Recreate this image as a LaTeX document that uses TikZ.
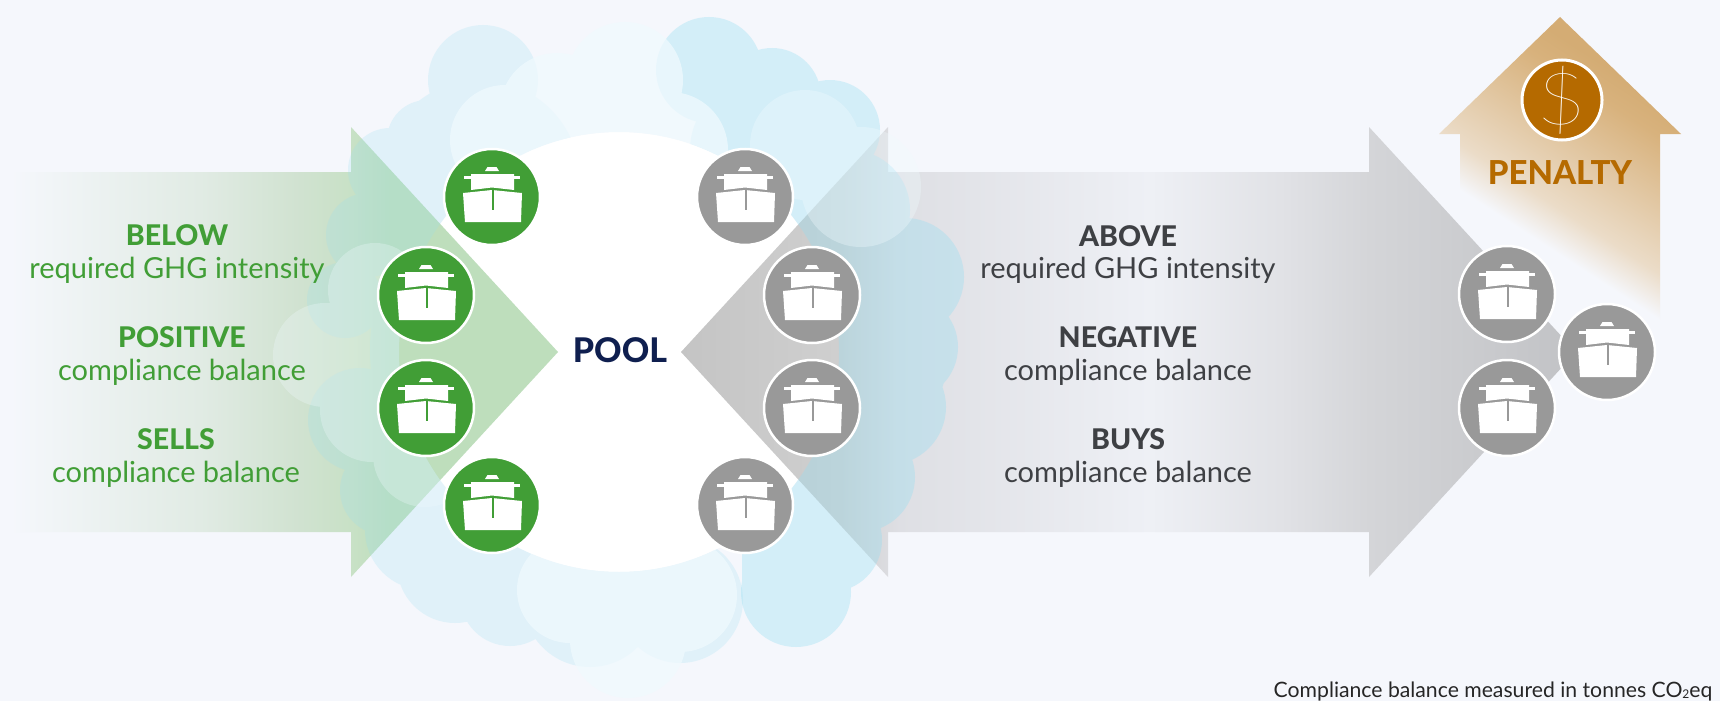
\documentclass[tikz,border=0pt]{standalone}
\usepackage{fontspec}
\setmainfont{Lato}
\newfontfamily\thinfont[FakeStretch=1.2]{Lato Thin}
\newfontfamily\heavyfont{Lato Heavy}
\definecolor{paper}{RGB}{245,247,252}
\definecolor{shipgreen}{RGB}{65,158,54}
\definecolor{shipgray}{RGB}{153,153,153}
\definecolor{textgray}{RGB}{62,64,68}
\definecolor{navy}{RGB}{15,31,79}
\definecolor{penaltybrown}{RGB}{181,106,0}
\definecolor{cloudblue}{RGB}{150,222,242}
\definecolor{cloudlight}{RGB}{240,250,254}
\pgfdeclarehorizontalshading{greenarrow}{100bp}{rgb(0bp)=(.961,.969,.988);rgb(25.9bp)=(.961,.969,.988);
  rgb(42.9bp)=(.882,.922,.894);rgb(51.9bp)=(.816,.886,.816);
  rgb(56.5bp)=(.784,.882,.776);rgb(60bp)=(.745,.871,.737);rgb(100bp)=(.745,.871,.737)}
\pgfdeclarehorizontalshading{grayarrow}{100bp}{rgb(0bp)=(.769,.769,.769);rgb(25bp)=(.769,.769,.769);
  rgb(33.8bp)=(.812,.812,.812);rgb(37.2bp)=(.871,.875,.894);rgb(51.2bp)=(.933,.941,.961);
  rgb(58.5bp)=(.882,.886,.902);rgb(63.5bp)=(.831,.835,.847);rgb(75bp)=(.757,.761,.773);rgb(100bp)=(.757,.761,.773)}
\pgfdeclareverticalshading{penaltyfade}{100bp}{rgb(0bp)=(.961,.969,.988);rgb(40bp)=(.961,.969,.988);
  rgb(46.5bp)=(.922,.863,.784);rgb(66bp)=(.847,.698,.49);rgb(71bp)=(.831,.675,.455);rgb(100bp)=(.831,.675,.455)}
\begin{document}
\begin{tikzpicture}[x=1pt,y=-1pt,
  shipdisc/.style = {shape=circle, draw=white, line width=2.5pt, minimum size=96pt, inner sep=0pt},
  greendisc/.style = {shipdisc, fill=shipgreen},
  graydisc/.style = {shipdisc, fill=shipgray},
  boldgreen/.style = {anchor=base, text=shipgreen, font=\fontsize{28.5}{30}\selectfont\heavyfont},
  plaingreen/.style = {anchor=base, text=shipgreen, font=\fontsize{29}{30}\selectfont},
  boldgray/.style = {anchor=base, text=textgray, font=\fontsize{28.5}{30}\selectfont\heavyfont},
  plaingray/.style = {anchor=base, text=textgray, font=\fontsize{29}{30}\selectfont},
  pics/ship/.style = {code={
    \fill[white] (-7,-26) -- (-4.5,-30) -- (4.5,-30) -- (7,-26) -- cycle;
    \fill[white] (-28,-21) -- (28,-21) -- (28,-18) -- (-28,-18) -- cycle;
    \fill[white] (-21,-23) -- (22,-23) -- (22,-7) -- (0,-9.5) -- (-21,-7) -- cycle;
    \fill[white] (-29,-4) -- (0,-7) -- (30,-4) -- (29,25) -- (-27,25) -- cycle;
    \draw[#1, line width=2pt] (0.5,-8) -- (0.5,13);
  }}]
  \useasboundingbox (0,0) rectangle (1720,701);
  \fill[paper] (0,0) rectangle (1720,701);

  % penalty arrow
  \path[shading=penaltyfade, shading angle=-33]
    (1560,17) -- (1681,134) -- (1660,134) -- (1660,352) -- (1460,352) -- (1460,134) -- (1439,134) -- cycle;

  \fill[white] (619,352) circle (220);

  % the two big arrows
  \path[shading=greenarrow] (0,172) -- (351,172) -- (351,127) -- (558,352) -- (351,577) -- (351,532) -- (0,532) -- cycle;
  \path[shading=grayarrow] (681,352) -- (888,127) -- (888,172) -- (1369,172) -- (1369,127) -- (1576,352)
    -- (1369,577) -- (1369,532) -- (888,532) -- (888,577) -- cycle;

  % clouds, with a hole for the white middle
  \begin{scope}
    \clip (0,0) -- (0,701) -- (1720,701) -- (1720,0) -- cycle (619,352) circle (220);
    \fill[cloudblue, opacity=.22] (483,80) circle (55) (427,140) circle (40) (390,170) circle (42)
      (368,235) circle (42) (345,300) circle (38) (360,420) circle (52) (385,490) circle (45)
      (425,530) circle (60) (455,565) circle (58) (510,596) circle (50) (590,600) circle (67)
      (680,600) circle (63) (560,350) circle (190) (480,180) circle (100) (500,520) circle (60);
    \fill[cloudblue, opacity=.35] (709,70) circle (53) (772,97) circle (49) (830,130) circle (50)
      (760,150) circle (70) (850,210) circle (60) (905,277) circle (59) (905,347) circle (53)
      (888,407) circle (58) (860,477) circle (55) (830,540) circle (52) (796,592) circle (55)
      (800,340) circle (150) (790,490) circle (60) (742,540) -- (796,540) -- (796,592) -- (742,592) -- cycle;
    \fill[cloudlight, opacity=.35] (805,145) circle (55) (861,187) circle (60);
    \fill[cloudlight, opacity=.3] (375,290) circle (47) (325,355) circle (52) (372,410) circle (52)
      (425,455) circle (52) (420,350) circle (60);
    \fill[cloudlight, opacity=.75] (625,80) circle (58) (557,110) circle (57) (505,140) circle (55)
      (670,150) circle (58) (620,170) circle (70);
    \fill[cloudlight, opacity=.75] (570,590) circle (53) (628,640) circle (58) (680,595) circle (57)
      (625,590) circle (40);
  \end{scope}

  \node[anchor=base, text=navy, font=\fontsize{34}{36}\selectfont\heavyfont] (pool) at (620,362) {POOL};

  \node[boldgreen] (below) at (177,245) {BELOW};
  \node[plaingreen] (belowtext) at (177,278) {required GHG intensity};
  \node[boldgreen] (positive) at (182,347) {POSITIVE};
  \node[plaingreen] (positivetext) at (182,380) {compliance balance};
  \node[boldgreen] (sells) at (176,449) {SELLS};
  \node[plaingreen] (sellstext) at (176,482) {compliance balance};

  \node[boldgray] (above) at (1128,246) {ABOVE};
  \node[plaingray] (abovetext) at (1128,278) {required GHG intensity};
  \node[boldgray] (negative) at (1128,347) {NEGATIVE};
  \node[plaingray] (negativetext) at (1128,380) {compliance balance};
  \node[boldgray] (buys) at (1128,449) {BUYS};
  \node[plaingray] (buystext) at (1128,482) {compliance balance};

  \node[greendisc] (green1) at (492,197) {};
  \node[greendisc] (green2) at (426,295) {};
  \node[greendisc] (green3) at (426,408) {};
  \node[greendisc] (green4) at (492,505) {};
  \node[graydisc] (gray1) at (745,197) {};
  \node[graydisc] (gray2) at (812,295) {};
  \node[graydisc] (gray3) at (812,408) {};
  \node[graydisc] (gray4) at (745,505) {};
  \node[graydisc] (gray5) at (1507,294) {};
  \node[graydisc] (gray6) at (1507,408) {};
  \node[graydisc] (gray7) at (1607,352) {};
  \foreach \shipname in {green1,green2,green3,green4}
    \pic at (\shipname) {ship=shipgreen};
  \foreach \shipname in {gray1,gray2,gray3,gray4,gray5,gray6,gray7}
    \pic at (\shipname) {ship=shipgray};

  \node[shape=circle, draw=white, line width=3pt, fill=penaltybrown, minimum size=80pt, inner sep=0pt] (dollardisc) at (1562,100) {};
  \node[inner sep=0pt, text=white, font=\fontsize{72}{72}\selectfont\thinfont] (dollar) at (dollardisc.center) {\$};
  \node[anchor=base, text=penaltybrown, font=\fontsize{33}{36}\selectfont\heavyfont] (penalty) at (1560,184) {PENALTY};

  \node[anchor=base east, text=black!85, font=\fontsize{21.2}{24}\selectfont] (note) at (1716,697)
    {Compliance balance measured in tonnes CO\raisebox{-1pt}{\fontsize{12}{12}\selectfont 2}eq};
\end{tikzpicture}
\end{document}
